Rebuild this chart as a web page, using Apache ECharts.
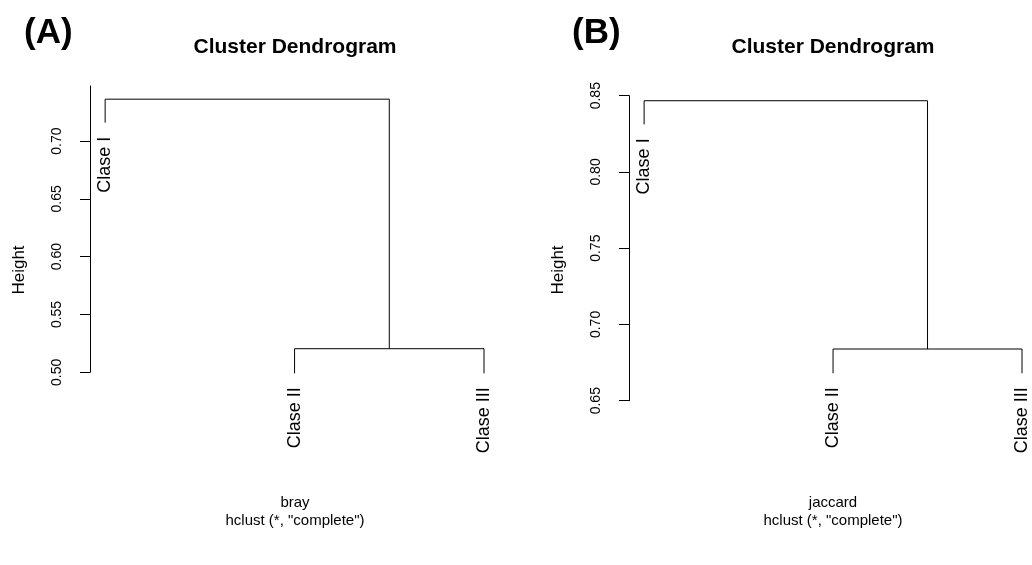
<!DOCTYPE html>
<html>
<head>
<meta charset="utf-8">
<script src="https://cdn.jsdelivr.net/npm/echarts@6/dist/echarts.min.js"></script>
<style>
  html, body { margin: 0; padding: 0; background: #fff; }
  #chart { width: 1032px; height: 565px; }
</style>
</head>
<body>
<div id="chart"></div>
<script>
// leaves (same order in both trees)
const leaves = ['Clase I', 'Clase II', 'Clase III'];
const leafPos = [1, 2, 3];

// (A) bray distance
const mergeA = [0.5204, 0.7362];        // II+III, then I+(II,III)
const leafEndA = [0.7159, 0.4991, 0.4991];
const ticksA = [0.50, 0.55, 0.60, 0.65, 0.70];

// (B) jaccard distance
const mergeB = [0.6839, 0.8467];
const leafEndB = [0.8312, 0.668, 0.668];
const ticksB = [0.65, 0.70, 0.75, 0.80, 0.85];

const FONT = 'Liberation Sans, Arial, Helvetica, sans-serif';

function branches(merge, leafEnd) {
    const mid = (leafPos[1] + leafPos[2]) / 2;
    return [
        [[leafPos[1], leafEnd[1]], [leafPos[1], merge[0]], [leafPos[2], merge[0]], [leafPos[2], leafEnd[2]]],
        [[leafPos[0], leafEnd[0]], [leafPos[0], merge[1]], [mid, merge[1]], [mid, merge[0]]]
    ];
}

function treeSeries(idx, merge, leafEnd) {
    let out = branches(merge, leafEnd).map(seg => ({
        type: 'line',
        xAxisIndex: idx,
        yAxisIndex: idx,
        data: seg,
        symbol: 'none',
        clip: false,
        silent: true,
        lineStyle: { color: '#000', width: 1 }
    }));
    out.push({
        type: 'scatter',
        xAxisIndex: idx,
        yAxisIndex: idx,
        symbolSize: 0,
        clip: false,
        silent: true,
        itemStyle: { opacity: 1 },
        data: leaves.map((n, i) => ({ name: n, value: [leafPos[i], leafEnd[i]] })),
        label: {
            show: true,
            formatter: '{b}',
            position: 'bottom',
            distance: 14,
            rotate: 90,
            align: 'right',
            verticalAlign: 'middle',
            fontSize: 18,
            fontFamily: FONT,
            color: '#000',
            opacity: 1
        }
    });
    return out;
}

function yAxis(idx, min, max, ticks) {
    return {
        type: 'value',
        gridIndex: idx,
        min: min,
        max: max,
        splitLine: { show: false },
        axisLine: { show: true, lineStyle: { color: '#000', width: 1 } },
        axisTick: { show: true, length: 10, customValues: ticks, lineStyle: { color: '#000' } },
        axisLabel: {
            customValues: ticks,
            rotate: 90,
            margin: 26,
            fontSize: 14,
            fontFamily: FONT,
            color: '#000',
            formatter: v => v.toFixed(2)
        }
    };
}

function xAxis(idx) {
    return {
        type: 'value', gridIndex: idx, min: 0.92, max: 3,
        show: false, splitLine: { show: false }
    };
}

function headTitle(text, x) {
    return { text: text, left: x, top: 37, textAlign: 'center', padding: 0,
        textStyle: { fontSize: 21, fontWeight: 'bold', fontFamily: FONT, color: '#000' } };
}
function subTitle(text, x) {
    return { text: text, left: x, top: 494, textAlign: 'center', padding: 0,
        textStyle: { fontSize: 15, fontWeight: 'normal', lineHeight: 18, fontFamily: FONT, color: '#000' } };
}
function panelTag(text, x) {
    return { text: text, left: x, top: 16, padding: 0,
        textStyle: { fontSize: 35, fontWeight: 'bold', fontFamily: FONT, color: '#000' } };
}

const chart = echarts.init(document.getElementById('chart'));
chart.setOption({
    backgroundColor: '#fff',
    animation: false,
    title: [
        panelTag('(A)', 24),
        panelTag('(B)', 572),
        headTitle('Cluster Dendrogram', 295),
        headTitle('Cluster Dendrogram', 833),
        subTitle('bray\nhclust (*, "complete")', 295),
        subTitle('jaccard\nhclust (*, "complete")', 833)
    ],
    grid: [
        { left: 90, top: 86, width: 394, height: 286.3 },
        { left: 629, top: 95.7, width: 393, height: 305 }
    ],
    xAxis: [xAxis(0), xAxis(1)],
    yAxis: [yAxis(0, 0.5, 0.7476, ticksA), yAxis(1, 0.65, 0.85, ticksB)],
    graphic: [
        { type: 'text', x: 19, y: 270, rotation: Math.PI / 2,
          style: { text: 'Height', align: 'center', verticalAlign: 'middle', fontSize: 17, fontFamily: FONT, fill: '#000' } },
        { type: 'text', x: 558, y: 270, rotation: Math.PI / 2,
          style: { text: 'Height', align: 'center', verticalAlign: 'middle', fontSize: 17, fontFamily: FONT, fill: '#000' } }
    ],
    series: treeSeries(0, mergeA, leafEndA).concat(treeSeries(1, mergeB, leafEndB))
});
</script>
</body>
</html>
